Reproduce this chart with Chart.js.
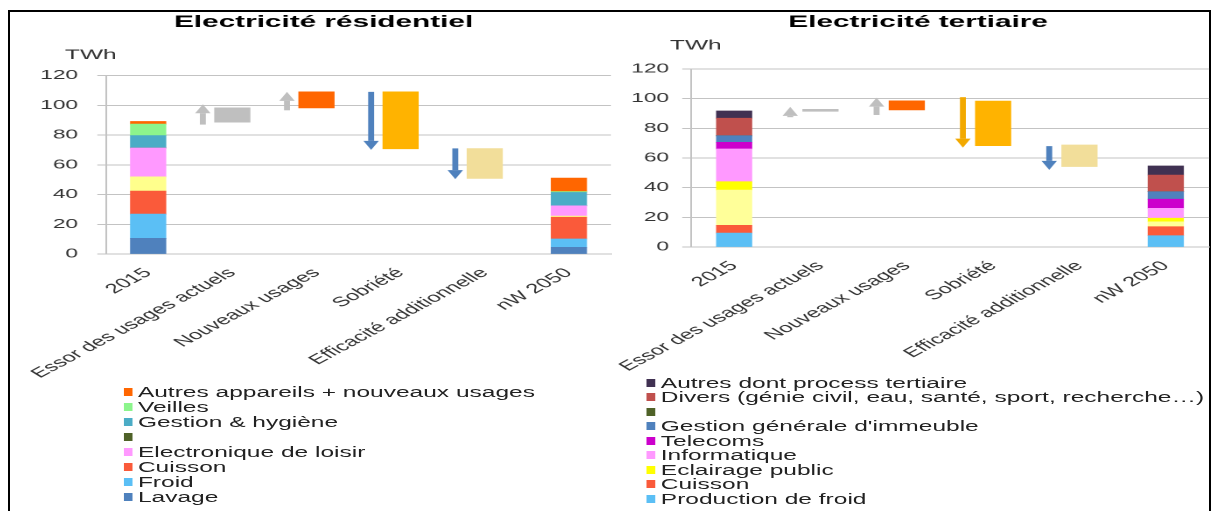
<!DOCTYPE html>
<html>
<head>
  <script src="https://cdn.jsdelivr.net/npm/chart.js"></script>
  <style>
    body { margin: 0; background: #fff; width: 1213px; height: 511px; overflow: hidden; position: relative; }
    .cadre { position: absolute; left: 8px; top: 10px; width: 1199px; height: 520px; border: 2px solid #000; border-bottom: none; }
    .panneau { position: absolute; top: 12px; transform: scaleX(1.75); transform-origin: 0 0; }
    .legende { position: absolute; font: 14px "Liberation Sans", Arial, sans-serif; color: #222; }
    .item { display: flex; align-items: center; white-space: nowrap; }
    .carre { display: inline-block; width: 5.7px; height: 8px; margin-right: 2.8px; }
  </style>
</head>
<body>
  <div class="cadre"></div>
  <div class="panneau" style="left:10px">
    <canvas id="resChart" width="346" height="372"></canvas>
    <div class="legende" id="resLegend" style="left:64.6px; top:372px"></div>
  </div>
  <div class="panneau" style="left:615px">
    <canvas id="terChart" width="340" height="362"></canvas>
    <div class="legende" id="terLegend" style="left:17.7px; top:363.5px"></div>
  </div>

  <script>
    // Categories (shared by both charts)
    var categories = ['2015', 'Essor des usages actuels', 'Nouveaux usages', 'Sobriété', 'Efficacité additionnelle', 'nW 2050'];

    // Electricité résidentiel, TWh
    var resLavage    = [10.5, null, null, null, null, 4.5];
    var resFroid     = [16.3, null, null, null, null, 5.6];
    var resCuisson   = [15.5, null, null, null, null, 14.6];
    var resEclairage = [9.6, null, null, null, null, 0.8];
    var resLoisir    = [19.4, null, null, null, null, 6.9];
    var resSansNom   = [0, null, null, null, null, 0];
    var resGestion   = [8.3, null, null, null, null, 9.0];
    var resVeilles   = [7.7, null, null, null, null, 0.6];
    var resAutres    = [1.8, null, null, null, null, 9.0];
    var resEtapes    = [null, [88.6, 98.3], [98.2, 109], [70.7, 109], [50.8, 70.9], null];
    var resFleches   = [null, [87, 100.7], [96.6, 109], [109, 70], [71, 50.3], null];

    // Electricité tertiaire, TWh
    var terFroid      = [9.4, null, null, null, null, 7.6];
    var terCuisson    = [5.2, null, null, null, null, 6.1];
    var terEclairage  = [23.8, null, null, null, null, 3.3];
    var terPublic     = [5.6, null, null, null, null, 2.4];
    var terInfo       = [22.1, null, null, null, null, 6.7];
    var terTelecoms   = [4.5, null, null, null, null, 6.1];
    var terGestion    = [4.4, null, null, null, null, 5.1];
    var terSansNom    = [0, null, null, null, null, 0];
    var terDivers     = [11.8, null, null, null, null, 11.2];
    var terAutres     = [4.9, null, null, null, null, 6.1];
    var terEtapes     = [null, [91.5, 92.8], [92.4, 98.5], [68.3, 98.4], [54.2, 68.8], null];
    var terFleches    = [null, [87.5, 94.5], [89, 100.7], [101, 67], [68, 52], null];

    var yTicks = [0, 20, 40, 60, 80, 100, 120];

    var police = '"Liberation Sans", Arial, sans-serif';
    var gris = '#C3C3C3';

    // arrows next to the waterfall steps + the "TWh" unit
    var annotPlugin = {
      id: 'annot',
      afterDatasetsDraw: function(chart, args, opts) {
        var x = chart.scales.x, y = chart.scales.y, ctx = chart.ctx;
        var step = x.width / chart.data.labels.length;
        ctx.save();
        opts.fleches.forEach(function(f, i) {
          if (!f) return;
          var cx = x.getPixelForValue(i) - step * opts.decalage;
          var y0 = y.getPixelForValue(f[0]);
          var y1 = y.getPixelForValue(f[1]);
          var dir = y1 < y0 ? 1 : -1;
          var tete = 9;
          ctx.fillStyle = opts.couleurs[i];
          var base = y1 + dir * tete;
          ctx.fillRect(cx - 1.7, Math.min(y0, base), 3.4, Math.abs(base - y0));
          ctx.beginPath();
          ctx.moveTo(cx, y1);
          ctx.lineTo(cx - 4.4, base);
          ctx.lineTo(cx + 4.4, base);
          ctx.closePath();
          ctx.fill();
        });
        ctx.fillStyle = '#333';
        ctx.font = '14px ' + police;
        ctx.textAlign = 'left';
        ctx.textBaseline = 'middle';
        ctx.fillText('TWh', chart.chartArea.left + opts.unite[0], chart.chartArea.top + opts.unite[1]);
        ctx.restore();
      }
    };

    function serie(label, data, color, legende) {
      return { label: label, data: data, backgroundColor: color, legende: legende !== false };
    }

    function config(titre, datasets, o) {
      return {
        type: 'bar',
        data: { labels: categories, datasets: datasets },
        plugins: [annotPlugin],
        options: {
          responsive: false,
          animation: false,
          devicePixelRatio: 2,
          barThickness: 20,
          layout: { padding: { left: o.padLeft, right: o.padRight, top: 0, bottom: 0 } },
          plugins: {
            legend: { display: false },
            tooltip: { enabled: false },
            title: {
              display: true,
              text: titre,
              color: '#000',
              font: { family: police, size: 17, weight: 'bold' },
              padding: { top: 0, bottom: o.titleGap }
            },
            annot: { fleches: o.fleches, couleurs: o.couleurs, decalage: 0.35, unite: o.unite }
          },
          scales: {
            x: {
              stacked: true,
              grid: { display: false },
              border: { color: gris },
              ticks: {
                autoSkip: false, minRotation: 43, maxRotation: 43, padding: 3,
                color: '#333', font: { family: police, size: 13.5 }
              },
              afterFit: function(s) { s.height = o.xHeight; }
            },
            y: {
              stacked: true,
              min: 0, max: 120,
              afterBuildTicks: function(s) { s.ticks = yTicks.map(function(v) { return { value: v }; }); },
              grid: { color: gris, tickLength: 5 },
              border: { color: gris },
              ticks: { padding: o.tickPad, color: '#333', font: { family: police, size: 13 } },
              afterFit: function(s) { s.width = o.yWidth; }
            }
          }
        }
      };
    }

    function legende(chart, id, hauteur) {
      var el = document.getElementById(id);
      chart.data.datasets.slice().reverse().forEach(function(ds) {
        if (!ds.legende) return;
        var row = document.createElement('div');
        row.className = 'item';
        row.style.height = hauteur + 'px';
        var box = document.createElement('span');
        box.className = 'carre';
        box.style.background = ds.backgroundColor;
        row.appendChild(box);
        row.appendChild(document.createTextNode(ds.label));
        el.appendChild(row);
      });
    }

    var resDatasets = [
      serie('Lavage', resLavage, '#4F81BD'),
      serie('Froid', resFroid, '#5BBFF5'),
      serie('Cuisson', resCuisson, '#FA5A3A'),
      serie('Eclairage', resEclairage, '#FFFF8C', false),
      serie('Electronique de loisir', resLoisir, '#FF99FF'),
      serie('', resSansNom, '#4F6228'),
      serie('Gestion & hygiène', resGestion, '#4BACC6'),
      serie('Veilles', resVeilles, '#8CF58C'),
      serie('Autres appareils + nouveaux usages', resAutres, '#FF6600'),
      { label: 'Etapes', data: resEtapes, legende: false,
        backgroundColor: [null, '#BFBFBF', '#FF6600', '#FFB300', '#F2DE9A', null] }
    ];

    var terDatasets = [
      serie('Production de froid', terFroid, '#5BBFF5'),
      serie('Cuisson', terCuisson, '#FA5A3A'),
      serie('Eclairage', terEclairage, '#FFFF99', false),
      serie('Eclairage public', terPublic, '#FFFF00'),
      serie('Informatique', terInfo, '#FF99FF'),
      serie('Telecoms', terTelecoms, '#CC00CC'),
      serie('Gestion générale d\'immeuble', terGestion, '#4F81BD'),
      serie('', terSansNom, '#4F6228'),
      serie('Divers (génie civil, eau, santé, sport, recherche…)', terDivers, '#C0504D'),
      serie('Autres dont process tertiaire', terAutres, '#403152'),
      { label: 'Etapes', data: terEtapes, legende: false,
        backgroundColor: [null, '#BFBFBF', '#FF6600', '#FFB300', '#F2DE9A', null] }
    ];

    var resChart = new Chart(document.getElementById('resChart'), config('Electricité résidentiel', resDatasets, {
      padLeft: 15, padRight: 2.6, titleGap: 43.1, xHeight: 130, yWidth: 39.9, tickPad: 11,
      fleches: resFleches, couleurs: [null, '#BFBFBF', '#BFBFBF', '#4F81BD', '#4F81BD', null],
      unite: [-23.5, -20.5]
    }));

    var terChart = new Chart(document.getElementById('terChart'), config('Electricité tertiaire', terDatasets, {
      padLeft: 7, padRight: 0.6, titleGap: 36.6, xHeight: 127, yWidth: 36.4, tickPad: 7.5,
      fleches: terFleches, couleurs: [null, '#BFBFBF', '#BFBFBF', '#F2A900', '#4F81BD', null],
      unite: [-12, -23.3]
    }));

    legende(resChart, 'resLegend', 15.14);
    legende(terChart, 'terLegend', 14.5);
  </script>
</body>
</html>
